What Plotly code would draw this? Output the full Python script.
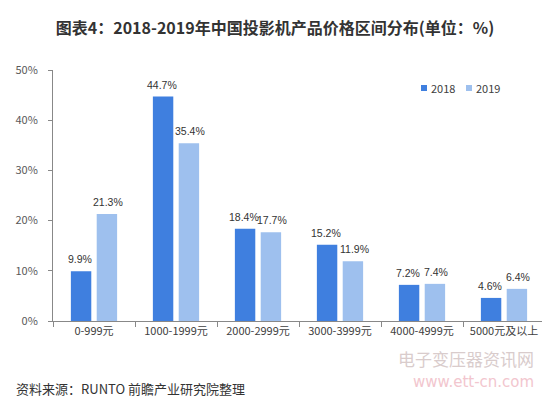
import plotly.graph_objects as go

categories = ["0-999元", "1000-1999元", "2000-2999元", "3000-3999元", "4000-4999元", "5000元及以上"]
values_2018 = [9.9, 44.7, 18.4, 15.2, 7.2, 4.6]
values_2019 = [21.3, 35.4, 17.7, 11.9, 7.4, 6.4]
series_names = ["2018", "2019"]
y_ticks = [0, 10, 20, 30, 40, 50]

FONT = "Noto Sans CJK SC"
LABEL_FONT = "Liberation Sans"
colors = ["#3F7FDF", "#9EC0EE"]

PL, PR, PT, PB = 45, 537, 62, 312.7
PW, PH = PR - PL, PB - PT
BARGAP, GROUPGAP = 0.37, 0.21

def px_x(x):
    return (x - PL) / PW

def px_y(y):
    return (PB - y) / PH

fig = go.Figure()
series = [values_2018, values_2019]
for name, vals, col in zip(series_names, series, colors):
    fig.add_trace(go.Bar(
        x=categories, y=vals, name=name,
        marker=dict(color=col, line=dict(width=0)),
        showlegend=False,
    ))

# value labels centred over each bar (slot offset derived from bar layout)
cat_w = PW / len(categories)
slot = cat_w * (1 - BARGAP) / len(series)
for i, (vals, name) in enumerate(zip(series, series_names)):
    off = (i - (len(series) - 1) / 2) * slot
    off += 1.5 if off > 0 else -1.5
    for c, v in zip(categories, vals):
        fig.add_annotation(x=c, y=v, xref="x", yref="y", text=f"{v:.1f}%",
                           showarrow=False, xanchor="center", yanchor="middle",
                           xshift=off, yshift=12,
                           font=dict(family=LABEL_FONT, size=10.5, color="#333333"))

fig.update_layout(
    width=550, height=397,
    margin=dict(l=PL, r=550 - PR, t=PT, b=397 - PB),
    paper_bgcolor="white", plot_bgcolor="white",
    barmode="group", bargap=BARGAP, bargroupgap=GROUPGAP,
    font=dict(family=FONT, size=11, color="#404040"),
    title=dict(text="<b>图表4：2018-2019年中国投影机产品价格区间分布(单位：%)</b>",
               x=0.5 - 8 / 550, xref="container", xanchor="center", y=1 - 20 / 397, yanchor="middle",
               font=dict(family=FONT, size=16, color="#333333")),
    showlegend=False,
)
fig.update_xaxes(
    type="category", showline=True, linecolor="#888888", linewidth=1,
    ticks="outside", tickson="boundaries", ticklen=5, tickcolor="#888888",
    tickfont=dict(family=FONT, size=11, color="#404040"),
    showgrid=False, zeroline=False, automargin=False,
)
fig.update_yaxes(
    range=[0, 50], tickvals=y_ticks, ticktext=[f"{v}%" for v in y_ticks],
    showline=True, linecolor="#888888", linewidth=1,
    ticks="outside", ticklen=4, tickcolor="#888888", ticklabelstandoff=8,
    tickfont=dict(family=FONT, size=11, color="#595959"),
    showgrid=False, zeroline=False, automargin=False,
)

# legend built from series names and colours
legend_x = [413, 458]
for name, col, lx in zip(series_names, colors, legend_x):
    fig.add_shape(type="rect", xref="paper", yref="paper",
                  x0=px_x(lx), x1=px_x(lx + 6), y0=px_y(83), y1=px_y(77),
                  fillcolor=col, line=dict(width=0))
    fig.add_annotation(text=name, xref="paper", yref="paper",
                       x=px_x(lx + 8), y=px_y(80), xanchor="left", yanchor="middle",
                       showarrow=False, font=dict(family=FONT, size=11, color="#404040"))

fig.add_annotation(text="资料来源：RUNTO 前瞻产业研究院整理", xref="paper", yref="paper",
                   x=px_x(6), y=px_y(380), xanchor="left", yanchor="middle",
                   showarrow=False, font=dict(family=FONT, size=13, color="#333333"))
fig.add_annotation(text="电子变压器资讯网", xref="paper", yref="paper",
                   x=px_x(528), y=px_y(350), xanchor="right", yanchor="middle",
                   showarrow=False, font=dict(family=FONT, size=17, color="#D9CCCC"))
fig.add_annotation(text="www.ett-cn.com", xref="paper", yref="paper",
                   x=px_x(528), y=px_y(374), xanchor="right", yanchor="middle",
                   showarrow=False, font=dict(family="DejaVu Sans", size=15, color="#F2C6CE"))

fig.write_html("out.html")
